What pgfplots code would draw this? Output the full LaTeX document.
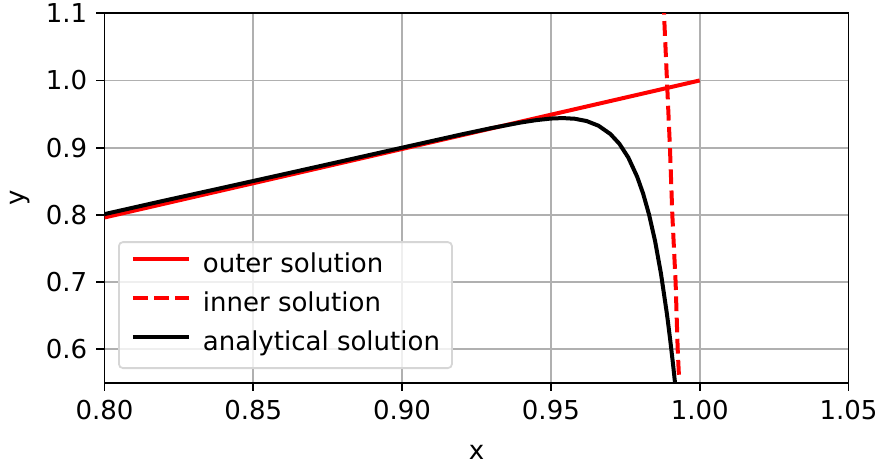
\documentclass[border=0pt]{standalone}
\usepackage{fontspec}
\setmainfont{DejaVu Sans}
\usepackage{pgfplots}
\pgfplotsset{compat=1.18}
\definecolor{gridgray}{HTML}{B0B0B0}
\definecolor{legedge}{HTML}{D6D6D6}

\begin{document}
\fontsize{13}{15.6}\selectfont
\begin{tikzpicture}
\begin{axis}[
  scale only axis,
  width=372pt,
  height=184.7pt,
  xmin=0.8, xmax=1.05,
  ymin=0.55, ymax=1.1,
  xtick={0.8,0.85,0.9,0.95,1.0,1.05},
  ytick={0.6,0.7,0.8,0.9,1.0,1.1},
  xticklabel style={/pgf/number format/.cd, fixed, fixed zerofill, precision=2},
  yticklabel style={/pgf/number format/.cd, fixed, fixed zerofill, precision=1},
  /pgf/number format/assume math mode=true,
  tick label style={font=\fontsize{13}{15.6}\selectfont},
  label style={font=\fontsize{13}{15.6}\selectfont},
  tick align=outside,
  major tick length=4.1pt,
  tick style={black, line width=0.93pt},
  axis line style={line width=0.93pt},
  xtick pos=bottom, ytick pos=left,
  grid=major,
  grid style={gridgray, line width=0.93pt},
  xlabel={x},
  ylabel={y},
  xlabel style={at={(axis description cs:0.5,-0.1876)}, anchor=center},
  ylabel style={at={(axis description cs:-0.1136,0.5)}, anchor=center},
  legend cell align=left,
  legend style={
    at={(axis cs:0.8,0.55)}, anchor=south west,
    xshift=6.75pt, yshift=6.85pt,
    font=\fontsize{13}{15.6}\selectfont,
    draw=legedge, line width=0.9pt, rounded corners=2pt,
    fill=white, fill opacity=0.8, text opacity=1,
    inner xsep=6pt, inner ysep=5.5pt,
    row sep=6.5pt, column sep=6pt,
    nodes={inner sep=0pt, text height=9.9pt, text depth=3.1pt},
  },
  legend image code/.code={\draw[#1] (0pt,3.6pt) -- (28pt,3.6pt);},
]
\addplot[red, line width=2pt] coordinates {(0.8,0.796) (1.0,1.0)};
\addlegendentry{outer solution}
\addplot[red, line width=2pt, dash pattern=on 7.4pt off 3.2pt] coordinates {
  (0.9878,1.12) (0.9880,1.10) (0.9890,1.00) (0.9900,0.90) (0.9908,0.80)
  (0.9919,0.70) (0.9926,0.60) (0.9931,0.553)};
\addlegendentry{inner solution}
\addplot[black, line width=2pt] coordinates {
  (0.800,0.8010) (0.820,0.8210) (0.840,0.8405) (0.860,0.8602) (0.880,0.8800)
  (0.900,0.8999) (0.920,0.9197) (0.930,0.9291) (0.940,0.9375) (0.945,0.9409)
  (0.950,0.9433) (0.954,0.9440) (0.958,0.9430) (0.962,0.9396) (0.966,0.9326)
  (0.970,0.9202) (0.973,0.9058) (0.976,0.8853) (0.979,0.8565) (0.981,0.8314)
  (0.983,0.8000) (0.985,0.7610) (0.987,0.7120) (0.989,0.6520) (0.990,0.6170)
  (0.991,0.5790) (0.9918,0.5460)};
\addlegendentry{analytical solution}
\end{axis}
\pgfresetboundingbox
\path[use as bounding box] ([shift={(-52.25pt,-41.65pt)}]current axis.south west)
  rectangle ([shift={(16.75pt,6.65pt)}]current axis.north east);
\end{tikzpicture}
\end{document}
